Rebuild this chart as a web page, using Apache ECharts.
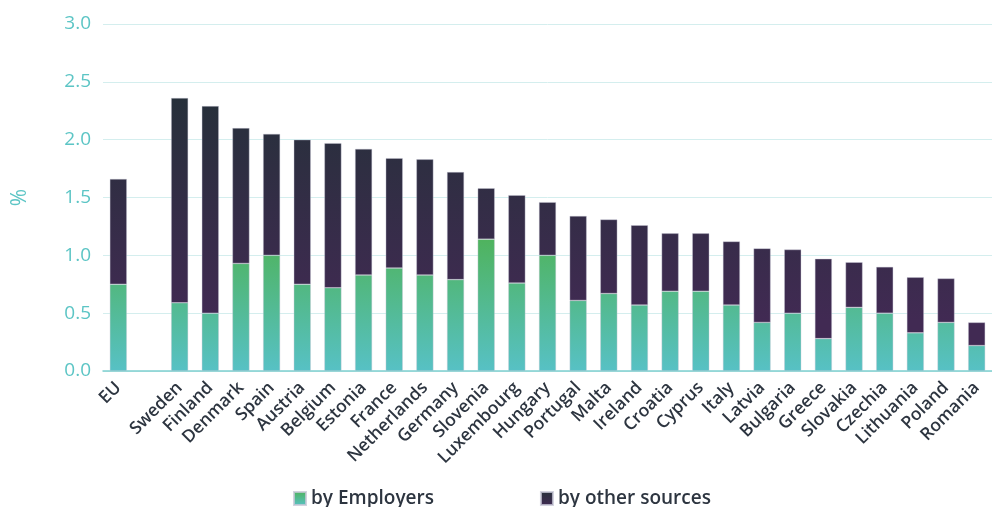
<!DOCTYPE html>
<html><head><meta charset="utf-8">
<script src="https://cdn.jsdelivr.net/npm/echarts@6/dist/echarts.min.js"></script>
<style>html,body{margin:0;padding:0;background:#fff}#c{width:992px;height:507px}</style>
</head><body><div id="c"></div>
<script>
var categories = ['EU','','Sweden','Finland','Denmark','Spain','Austria','Belgium','Estonia','France','Netherlands','Germany','Slovenia','Luxembourg','Hungary','Portugal','Malta','Ireland','Croatia','Cyprus','Italy','Latvia','Bulgaria','Greece','Slovakia','Czechia','Lithuania','Poland','Romania'];
var totals = [1.66,null,2.36,2.29,2.10,2.05,2.00,1.97,1.92,1.84,1.83,1.72,1.58,1.52,1.46,1.34,1.31,1.26,1.19,1.19,1.12,1.06,1.05,0.97,0.94,0.90,0.81,0.80,0.42];
var byEmployers = [0.75,null,0.59,0.50,0.93,1.00,0.75,0.72,0.83,0.89,0.83,0.79,1.14,0.76,1.00,0.61,0.67,0.57,0.69,0.69,0.57,0.42,0.50,0.28,0.55,0.50,0.33,0.42,0.22];
var byOther = totals.map(function(t,i){ return t==null ? null : +(t - byEmployers[i]).toFixed(2); });
var yTicks = ['0.0','0.5','1.0','1.5','2.0','2.5','3.0'];

var chart = echarts.init(document.getElementById('c'));
var G = echarts.graphic;
var greenGrad = new G.LinearGradient(0, 371, 0, 240, [{offset:0,color:'#57c1c5'},{offset:1,color:'#4fb35e'}], true);
var darkGrad = new G.LinearGradient(0, 320, 0, 95, [{offset:0,color:'#412a53'},{offset:1,color:'#26303a'}], true);
var greenLeg = new G.LinearGradient(0,0,0,1,[{offset:0,color:'#4fb35e'},{offset:1,color:'#57c1c5'}]);
var darkLeg = new G.LinearGradient(0,0,0,1,[{offset:0,color:'#26303a'},{offset:1,color:'#412a53'}]);
var font = '"Open Sans", "Noto Sans", sans-serif';
chart.setOption({
  animation:false,
  textStyle:{fontFamily:font},
  grid:{left:103,right:-8.5,top:24,bottom:136,containLabel:false},
  legend:{
    top:484, left:288, itemWidth:12, itemHeight:13, itemGap:106,
    textStyle:{fontSize:19,color:'#2d3540',fontFamily:font,fontWeight:600},
    data:[{name:'by Employers',icon:'rect',itemStyle:{color:greenLeg}},{name:'by other sources',icon:'rect',itemStyle:{color:darkLeg}}]
  },
  xAxis:{
    type:'category', data:categories,
    axisLine:{lineStyle:{color:'#7fcfd0',width:1.5}},
    axisTick:{show:false},
    axisLabel:{interval:0,rotate:45,color:'#2d3540',fontSize:17.5,fontWeight:600,margin:14,fontFamily:font}
  },
  yAxis:{
    type:'value', min:0, max:3, interval:0.5,
    name:'%', nameLocation:'middle', nameGap:72, nameRotate:90,
    nameTextStyle:{color:'#5cc5c5',fontSize:21,fontFamily:font},
    axisLine:{show:false}, axisTick:{show:false},
    axisLabel:{color:'#5cc5c5',fontSize:19,margin:12,formatter:function(v){return yTicks[Math.round(v*2)];}},
    splitLine:{lineStyle:{color:'#d4eeee',width:1}}
  },
  series:[
    {name:'by Employers',type:'bar',stack:'a',data:byEmployers,barWidth:17,
     itemStyle:{color:greenGrad,borderColor:'rgba(200,200,215,0.8)',borderWidth:0.5}},
    {name:'by other sources',type:'bar',stack:'a',data:byOther,barWidth:17,
     itemStyle:{color:darkGrad,borderColor:'rgba(200,200,215,0.8)',borderWidth:0.5}}
  ]
});
</script></body></html>
